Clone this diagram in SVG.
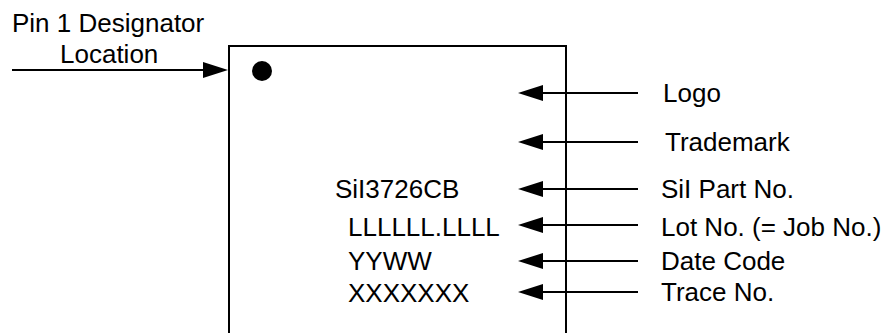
<svg xmlns="http://www.w3.org/2000/svg" width="889" height="333" viewBox="0 0 889 333">
<style>
text{font-family:"Liberation Sans",Arial,sans-serif;font-size:26px;fill:#000}
.ln{stroke:#000;stroke-width:2;fill:none}
</style>
<defs>
<marker id="ah" viewBox="0 0 25 16" refX="13" refY="8" markerWidth="25" markerHeight="16" markerUnits="userSpaceOnUse" orient="auto">
<path d="M0,0 L25,8 L0,16 z" fill="#000"/>
</marker>
</defs>
<rect width="889" height="333" fill="#fff"/>
<g id="package">
<rect class="ln" x="229" y="46" width="337" height="300"/>
<circle cx="262" cy="71" r="10" fill="#000"/>
<text x="335" y="198">SiI3726CB</text>
<text x="348" y="236">LLLLLL.LLLL</text>
<text x="348" y="270">YYWW</text>
<text x="348" y="302">XXXXXXX</text>
</g>
<g id="pin1-label">
<text x="12" y="32">Pin 1 Designator</text>
<text x="60" y="63">Location</text>
</g>
<g id="logo-label"><text x="663" y="102">Logo</text></g>
<g id="trademark-label"><text x="665" y="151">Trademark</text></g>
<g id="part-label"><text x="661" y="198">SiI Part No.</text></g>
<g id="lot-label"><text x="661" y="236">Lot No. (= Job No.)</text></g>
<g id="date-label"><text x="661" y="270">Date Code</text></g>
<g id="trace-label"><text x="661" y="301">Trace No.</text></g>
<g id="connectors">
<line class="ln" x1="12" y1="70" x2="216" y2="70" marker-end="url(#ah)"/>
<line class="ln" x1="638" y1="93" x2="530" y2="93" marker-end="url(#ah)"/>
<line class="ln" x1="638" y1="142" x2="530" y2="142" marker-end="url(#ah)"/>
<line class="ln" x1="638" y1="189" x2="530" y2="189" marker-end="url(#ah)"/>
<line class="ln" x1="638" y1="225" x2="530" y2="225" marker-end="url(#ah)"/>
<line class="ln" x1="638" y1="261" x2="530" y2="261" marker-end="url(#ah)"/>
<line class="ln" x1="638" y1="292" x2="530" y2="292" marker-end="url(#ah)"/>
</g>
</svg>
